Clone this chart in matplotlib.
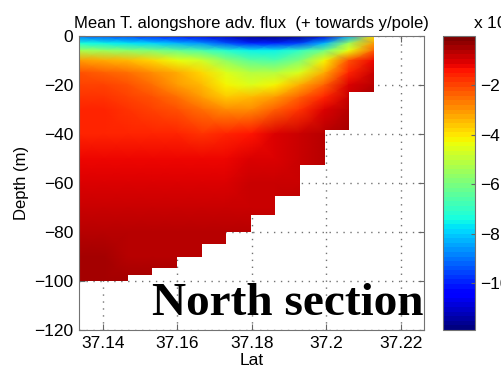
import matplotlib
matplotlib.use("Agg")
import matplotlib.pyplot as plt
import numpy as np
from matplotlib.patches import Polygon

# grid nodes of the section
lat_nodes = [37.1336, 37.1402, 37.1467, 37.1533, 37.1599, 37.1665, 37.1730,
             37.1797, 37.1862, 37.1929, 37.1995, 37.2060, 37.2127]
depth_nodes = [0, -3, -6, -10, -15, -20, -25, -30, -40, -50, -60, -70, -80, -90, -100]

# bottom depth of each water column between lat_nodes
bottom_depth = [-100, -100, -97.5, -94.5, -90, -85, -80, -73, -65.5, -52.5, -38.5, -23]

# mean alongshore advective temperature flux (scaled), one row per depth node
flux = [
    [-9.0, -9.3, -9.6, -9.9, -10.2, -10.6, -11.0, -11.6, -11.8, -11.6, -10.8, -8.5, -4.0],
    [-7.3, -7.5, -7.7, -7.9, -8.2, -8.7, -9.3, -9.9, -10.0, -9.5, -8.3, -5.5, -3.0],
    [-5.3, -5.4, -5.6, -5.9, -6.2, -6.6, -7.1, -7.5, -7.5, -7.0, -6.0, -4.3, -2.3],
    [-3.0, -3.2, -3.5, -3.9, -4.3, -4.7, -5.6, -6.5, -6.6, -5.8, -4.2, -2.2, -1.2],
    [-2.2, -2.3, -2.5, -2.8, -3.2, -3.8, -4.6, -5.2, -5.2, -4.5, -3.2, -1.6, -0.8],
    [-2.0, -2.0, -2.2, -2.5, -3.0, -3.5, -4.2, -4.6, -4.2, -3.3, -2.3, -1.1, -0.6],
    [-1.8, -1.8, -1.9, -2.1, -2.5, -3.0, -3.6, -3.5, -3.0, -2.3, -1.5, -0.8, -0.5],
    [-1.6, -1.6, -1.7, -1.9, -2.2, -2.6, -2.9, -2.8, -2.3, -1.7, -1.1, -0.7, -0.5],
    [-1.5, -1.5, -1.5, -1.6, -1.6, -1.7, -1.6, -1.4, -1.1, -0.9, -0.7, -0.5, -0.5],
    [-1.3, -1.3, -1.3, -1.3, -1.3, -1.3, -1.2, -1.1, -1.0, -0.85, -0.7, -0.6, -0.5],
    [-1.1, -1.0, -1.0, -1.0, -1.0, -1.0, -0.95, -0.9, -0.85, -0.75, -0.7, -0.6, -0.5],
    [-0.8, -0.8, -0.85, -0.85, -0.85, -0.85, -0.8, -0.8, -0.75, -0.7, -0.65, -0.6, -0.5],
    [-0.6, -0.65, -0.7, -0.7, -0.7, -0.7, -0.7, -0.7, -0.7, -0.65, -0.6, -0.55, -0.5],
    [-0.5, -0.55, -0.6, -0.6, -0.6, -0.6, -0.6, -0.6, -0.6, -0.6, -0.55, -0.5, -0.5],
    [-0.4, -0.45, -0.5, -0.5, -0.5, -0.5, -0.5, -0.5, -0.5, -0.5, -0.5, -0.5, -0.5],
]

x_ticks = [37.14, 37.16, 37.18, 37.2, 37.22]
x_tick_labels = ["37.14", "37.16", "37.18", "37.2", "37.22"]
y_ticks = [0, -20, -40, -60, -80, -100, -120]
cbar_ticks = [-10, -8, -6, -4, -2]

plt.rcParams["font.family"] = ["Liberation Sans", "DejaVu Sans"]
plt.rcParams["font.size"] = 12.5

fig = plt.figure(figsize=(5.02, 3.76), dpi=100)
ax = fig.add_axes([0.1574, 0.1223, 0.6873, 0.7819])
cax = fig.add_axes([0.8825, 0.1223, 0.0637, 0.7819])

cmap = plt.get_cmap("jet", 64)
X, Y = np.meshgrid(lat_nodes, depth_nodes)
mesh = ax.pcolormesh(X, Y, np.array(flux), shading="gouraud", cmap=cmap,
                     vmin=-11.9, vmax=0, zorder=2)

# clip the field to the stepped bottom
verts = [(lat_nodes[0], 0), (lat_nodes[-1], 0)]
for i in range(len(bottom_depth) - 1, -1, -1):
    verts.append((lat_nodes[i + 1], bottom_depth[i]))
    verts.append((lat_nodes[i], bottom_depth[i]))
clip = Polygon(verts, closed=True, transform=ax.transData, facecolor="none", edgecolor="none")
mesh.set_clip_path(clip)

ax.set_xlim(37.1336, 37.2262)
ax.set_ylim(-120, 0)
ax.set_xticks(x_ticks)
ax.set_xticklabels(x_tick_labels)
ax.set_yticks(y_ticks)
ax.set_axisbelow(True)
ax.grid(True, color="0.45", linestyle=(0, (1, 4)), linewidth=1.0)
ax.tick_params(direction="in", top=True, right=True, length=4, color="0.4", pad=4)
for spine in ax.spines.values():
    spine.set_color("0.45")

ax.set_title("Mean T. alongshore adv. flux  (+ towards y/pole)", fontsize=12, pad=6)
ax.set_xlabel("Lat", labelpad=2)
ax.set_ylabel("Depth (m)", fontsize=12, labelpad=4)

cb = fig.colorbar(mesh, cax=cax)
cb.set_ticks(cbar_ticks)
cb.ax.tick_params(direction="in", length=3, color="0.4", labelsize=12.5)
cb.outline.set_edgecolor("0.45")
fig.text(473 / 502, 1 - 22 / 376, "x 10$^{-5}$", fontsize=12.5, va="center", ha="left")

fig.text(152 / 502, 1 - 315 / 376, "North section", family=["Liberation Serif"],
         fontweight="bold", fontsize=34, va="baseline", ha="left")

fig.savefig("out.png", dpi=100)
